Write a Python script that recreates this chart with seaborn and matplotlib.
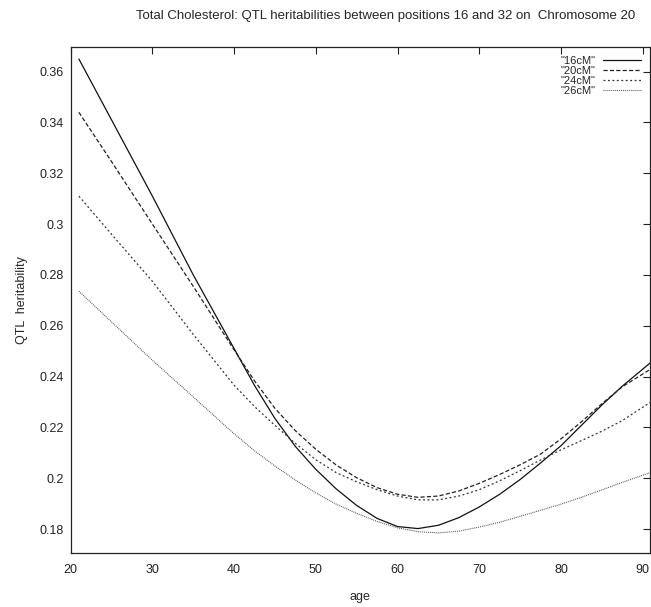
import numpy as np
import pandas as pd
import seaborn as sns
import matplotlib.pyplot as plt
from matplotlib.ticker import FuncFormatter, MultipleLocator

ages = [21, 25, 30, 35, 40, 42.5, 45, 47.5, 50, 52.5, 55, 57.5, 60, 62.5, 65,
        67.5, 70, 72.5, 75, 77.5, 80, 82.5, 85, 87.5, 91]

# QTL heritability for each position
h16 = [0.365, 0.341, 0.311, 0.280, 0.251, 0.2365, 0.2235, 0.2125, 0.2035, 0.1958,
       0.1893, 0.1842, 0.1810, 0.1802, 0.1815, 0.1845, 0.1887, 0.1937, 0.1995,
       0.2060, 0.2128, 0.2208, 0.2288, 0.2362, 0.2456]
h20 = [0.344, 0.3246, 0.300, 0.2755, 0.2505, 0.2383, 0.2275, 0.2187, 0.2114, 0.2052,
       0.2002, 0.1963, 0.1937, 0.1925, 0.1930, 0.1950, 0.1980, 0.2015, 0.2053,
       0.2095, 0.2155, 0.2222, 0.2293, 0.2360, 0.2430]
h24 = [0.311, 0.296, 0.2775, 0.2566, 0.2366, 0.2282, 0.2208, 0.2137, 0.2073, 0.2022,
       0.1986, 0.1955, 0.1930, 0.1915, 0.1915, 0.1930, 0.1955, 0.1990, 0.2030,
       0.2072, 0.2112, 0.2148, 0.2185, 0.2227, 0.2300]
h26 = [0.2736, 0.2615, 0.2464, 0.2320, 0.2175, 0.2108, 0.2048, 0.1993, 0.1942, 0.1898,
       0.1862, 0.1830, 0.1805, 0.1790, 0.1785, 0.1792, 0.1808, 0.1827, 0.1850,
       0.1874, 0.1898, 0.1925, 0.1954, 0.1984, 0.2023]

labels = ['"16cM"', '"20cM"', '"24cM"', '"26cM"']
series = [h16, h20, h24, h26]

title = "Total Cholesterol: QTL heritabilities between positions 16 and 32 on  Chromosome 20"

sns.set_style('white')
plt.rcParams['font.family'] = ['Liberation Sans', 'DejaVu Sans']
plt.rcParams['lines.scale_dashes'] = False

# line styles, gnuplot-like
styles = ['-', (0, (3.0, 1.6)), (0, (1.4, 1.8)), (0, (0.7, 0.7))]
colors = ['#111111', '#222222', '#333333', '#555555']
widths = [0.9, 0.9, 0.9, 0.8]

fig = plt.figure(figsize=(6.51, 6.07), dpi=100)
ax = fig.add_axes([0.1086, 0.089, 0.8899, 0.834])

for lab, vals, ls, c, lw in zip(labels, series, styles, colors, widths):
    df = pd.DataFrame({'age': ages, 'h': vals})
    sns.lineplot(data=df, x='age', y='h', ax=ax, color=c, linestyle=ls,
                 linewidth=lw, label=lab)

ax.set_xlim(20, 90.9)
ax.set_ylim(0.1706, 0.3698)
ax.xaxis.set_major_locator(MultipleLocator(10))
ax.yaxis.set_major_locator(MultipleLocator(0.02))
ax.yaxis.set_major_formatter(FuncFormatter(lambda v, p: '%g' % round(v, 2)))

ax.tick_params(direction='in', top=True, right=True, length=5, width=0.8,
               labelsize=9, colors='#222222')
ax.tick_params(axis='x', pad=8)
ax.tick_params(axis='y', pad=5)
for s in ax.spines.values():
    s.set_linewidth(0.9)
    s.set_color('#222222')

ax.set_xlabel('age', fontsize=9, labelpad=11)
ax.set_ylabel('QTL  heritability', fontsize=9, labelpad=8)

leg = ax.legend(loc='upper right', frameon=False, markerfirst=False,
                handlelength=3.4, fontsize=8, labelspacing=0.0,
                borderaxespad=0.4, handletextpad=0.7)

fig.text(0.593, 1 - 16 / 607, title, ha='center', va='center', fontsize=9.5)

fig.savefig('out.png', dpi=100)
